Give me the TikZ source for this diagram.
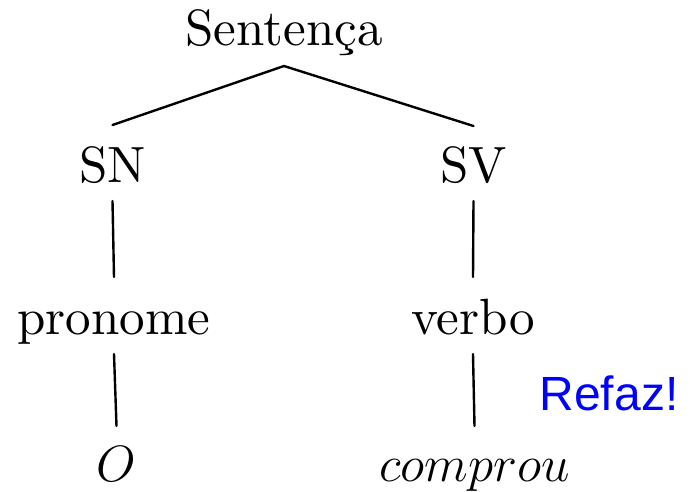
\documentclass[tikz,border=0pt]{standalone}
\usepackage{fix-cm}
\usepackage{fontspec}
\setmainfont{lmroman10-regular.otf}[ItalicFont=lmroman10-italic.otf]
\newfontfamily\refazfont{Liberation Sans}
\begin{document}
\begin{tikzpicture}[x=1pt,y=-1pt,
  lbl/.style={anchor=base,inner sep=0pt,outer sep=0pt,text height=35pt,text depth=10pt,
    font=\fontsize{51}{60}\selectfont},
  edge/.style={line width=2.4pt,line cap=round}]
\useasboundingbox (0,0) rectangle (690,491);
\node[lbl] (sent) at (284,45) {Senten\c{c}a};
\node[lbl] (sn) at (112.5,182) {SN};
\node[lbl] (sv) at (473.5,182) {SV};
\node[lbl] (pron) at (114,334) {pronome};
\node[lbl] (verbo) at (473,334) {verbo};
\node[lbl] (o) at (116.5,481) {$O$};
\node[lbl] (compr) at (474.5,481) {$comprou$};
\node[anchor=base,inner sep=0pt,text=blue,font=\refazfont\fontsize{48}{56}\selectfont] (refaz) at (609,410) {Refaz!};
\draw[edge] ([yshift=-11pt]sent.south) -- ([yshift=22pt]sn.north);
\draw[edge] ([yshift=-11pt]sent.south) -- ([yshift=21pt]sv.north);
\draw[edge] ([yshift=-9pt]sn.south) -- ([yshift=22pt]pron.north);
\draw[edge] ([yshift=-9pt]sv.south) -- ([yshift=22pt]verbo.north);
\draw[edge] ([yshift=-10pt]pron.south) -- ([yshift=20pt]o.north);
\draw[edge] ([yshift=-10pt]verbo.south) -- ([yshift=20pt]compr.north);
\end{tikzpicture}
\end{document}
